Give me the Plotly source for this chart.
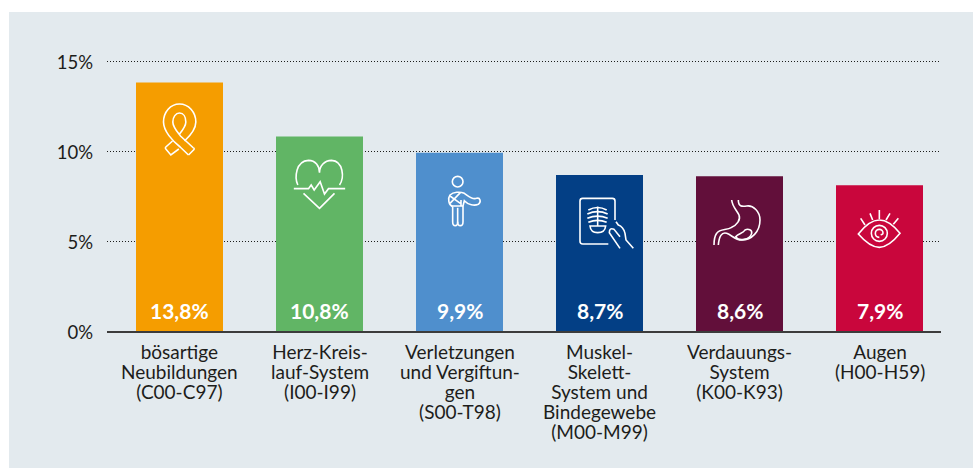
import re
import plotly.graph_objects as go

categories = ["bösartige Neubildungen", "Herz-Kreislauf-System", "Verletzungen und Vergiftungen",
              "Muskel-Skelett-System und Bindegewebe", "Verdauungs-System", "Augen"]
bar_heights = [13.8, 10.8, 9.9, 8.67, 8.6, 8.1]
bar_labels = ["13,8%", "10,8%", "9,9%", "8,7%", "8,6%", "7,9%"]
category_lines = [
    ["bösartige", "Neubildungen", "(C00-C97)"],
    ["Herz-Kreis-", "lauf-System", "(I00-I99)"],
    ["Verletzungen", "und Vergiftun-", "gen", "(S00-T98)"],
    ["Muskel-", "Skelett-", "System und", "Bindegewebe", "(M00-M99)"],
    ["Verdauungs-", "System", "(K00-K93)"],
    ["Augen", "(H00-H59)"],
]
bar_colors = ["#F59D00", "#61B565", "#4F8FCD", "#033F85", "#620F3A", "#C9063C"]
y_ticks = [0, 5, 10, 15]
y_tick_labels = ["0%", "5%", "10%", "15%"]

FONT = "Lato, sans-serif"
TEXT = "#1d1d1b"
PANEL = "#E3EAEE"
L, R, T, B = 107, 32, 52, 137
W, H = 973, 468
PW, PH = W - L - R, H - T - B
FIRST_CX, STEP = 179.5, 140


def circle(cx, cy, r):
    k = 0.5523 * r
    return (f"M{cx-r},{cy} C{cx-r},{cy-k} {cx-k},{cy-r} {cx},{cy-r} C{cx+k},{cy-r} {cx+r},{cy-k} {cx+r},{cy} "
            f"C{cx+r},{cy+k} {cx+k},{cy+r} {cx},{cy+r} C{cx-k},{cy+r} {cx-r},{cy+k} {cx-r},{cy} Z")


# Decorative icons: drawn in 3x zoom units; (ox, oy) is the icon's local origin in those units,
# (top) the pixel height of that origin above the baseline.
icons = [
    dict(ox=538, oy=390, top=331 - 130, d=[
        "M565,465 L540,441 C517,423 490,393 490,366 C490,336 511,312 538,312 C565,312 587,336 587,366 C587,387 566,411 553,423",
        "M580,444 L541,408 C529,393 518,381 518,366 C518,351 527,339 538,339 C550,339 557,351 557,366 C557,378 548,390 538,402",
        "M517,423 L497,441 Q494,444 497,447 L512,465 L536,447",
        "M580,444 Q584,447 580,450 L565,465",
    ]),
    dict(ox=958, oy=555, top=331 - 185, d=[
        "M893,555 C883,534 886,483 925,481 C946,481 958,498 958,518 C958,498 973,481 994,481 C1030,483 1033,534 1018,555",
        "M881,566 L925,566 L933,555 L942,570 L960,545 L973,582 L985,566 L1035,566",
        "M910,580 L958,625 L1003,580",
    ]),
    dict(ox=73.5, oy=100, top=331 - (170 + 100 / 3), d=[
        circle(68, 35, 16),
        "M53,110 L53,155 Q53,167 61,167 Q68,167 68,155 L68,113",
        "M68,155 Q68,167 76,167 Q84,167 84,155 L84,108",
        "M53,110 C40,105 38,85 45,75 C55,66 75,64 88,70 C100,78 110,90 125,85 C135,82 140,95 130,103 C118,108 100,105 88,92 L84,108",
        "M45,78 L76,100 M76,68 L45,100 M50,108 L84,108 M78,90 L78,108",
    ]),
    dict(ox=(599.5 - 570) * 3, oy=100, top=331 - (190 + 100 / 3), d=[
        "M135,90 L135,33 Q135,25 127,25 L38,25 Q30,25 30,33 L30,154 Q30,162 38,162 L115,162",
        "M83,50 L83,108",
        "M55,60 Q83,45 110,60 M52,72 Q83,58 113,72 M52,85 Q83,72 113,85 M55,97 Q83,85 110,97",
        "M60,108 L107,108 Q105,128 83,128 Q62,128 60,108 Z",
        "M138,95 L145,105 Q160,110 165,130 L168,150 L190,175",
        "M150,175 L118,128 Q118,112 132,118 L150,140",
    ]),
    dict(ox=(739.5 - 705) * 3, oy=100, top=331 - (190 + 100 / 3), d=[
        "M80,30 C82,50 95,60 102,75 C108,90 95,105 80,112 C65,122 45,115 35,130 C28,140 27,155 27,165",
        "M100,30 C100,50 110,50 125,48 C145,45 165,65 165,90 C165,125 140,150 110,150 C90,150 80,135 65,130 C50,125 42,140 40,165",
        "M92,140 C100,130 115,130 120,120 C130,115 142,120 140,130 C135,150 100,155 92,140 Z",
    ]),
    dict(ox=(879.5 - 850) * 3, oy=100, top=331 - (200 + 100 / 3), d=[
        "M25,102 C50,70 70,60 88,60 C110,60 130,75 150,100 C130,125 110,142 88,142 C65,142 45,125 25,102 Z",
        circle(88, 100, 24),
        "M88,112 C80,112 76,106 76,100 C76,93 82,88 88,88 C94,88 99,93 99,99 C99,103 95,105 92,103",
        "M88,30 L88,57 M60,40 L68,60 M120,40 L108,60 M32,55 L45,75 M145,55 L130,73",
    ]),
]


def to_pixel_path(d, ox, oy, top):
    """Map zoom-unit, y-down points to Plotly pixel-sized shape coordinates (y-up)."""
    out, is_x = [], True
    for tok in re.findall(r"[MLCQZ]|-?\d+\.?\d*", d):
        if tok.isalpha():
            out.append(tok)
            is_x = True
        else:
            v = float(tok)
            out.append(f"{(v - ox) / 3:.2f}" if is_x else f"{top - (v - oy) / 3:.2f}")
            is_x = not is_x
    return " ".join(out)


x = list(range(len(categories)))
fig = go.Figure(go.Bar(x=x, y=bar_heights, marker=dict(color=bar_colors, line_width=0),
                       width=87 / STEP, hoverinfo="skip", showlegend=False))

shapes = [dict(type="rect", xref="paper", yref="paper", layer="below", line_width=0, fillcolor=PANEL,
               x0=(9 - L) / PW, x1=(W - L) / PW,
               y0=(H - B - 468) / PH, y1=(H - B - 12) / PH)]
for i, icon in enumerate(icons):
    for d in icon["d"]:
        shapes.append(dict(type="path", xref="x", yref="y", xsizemode="pixel", ysizemode="pixel",
                           xanchor=i, yanchor=0, layer="above",
                           line=dict(color="white", width=1.6),
                           path=to_pixel_path(d, icon["ox"], icon["oy"], icon["top"])))

annotations = []
for i, lab in enumerate(bar_labels):
    annotations.append(dict(x=i, y=0, xref="x", yref="y", text=f"<b>{lab}</b>", showarrow=False,
                            yanchor="middle", yshift=21,
                            font=dict(family=FONT, size=21, color="white")))
for i, lines in enumerate(category_lines):
    annotations.append(dict(x=i, y=0, xref="x", yref="y", text="<br>".join(lines), showarrow=False,
                            yanchor="top", yshift=-7, align="center",
                            font=dict(family=FONT, size=19, color=TEXT)))

fig.update_layout(
    width=W, height=H, autosize=False,
    margin=dict(l=L, r=R, t=T, b=B, pad=0),
    paper_bgcolor="white", plot_bgcolor="rgba(0,0,0,0)",
    shapes=shapes, annotations=annotations, font=dict(family=FONT, color=TEXT),
    xaxis=dict(range=[(L - FIRST_CX) / STEP, (W - R - FIRST_CX) / STEP], showticklabels=False,
               showgrid=False, zeroline=False, showline=True, linecolor="#3c3c3c", linewidth=2, ticks=""),
    yaxis=dict(range=[0, 15.5], tickmode="array", tickvals=y_ticks, ticktext=y_tick_labels,
               showgrid=True, griddash="1px,2px", gridcolor="#1d1d1b", gridwidth=1, zeroline=False,
               showline=False, ticks="", ticklabelstandoff=13, ticklabelshift=2,
               tickfont=dict(family=FONT, size=18.5, color=TEXT)),
)
# Tighten the line pitch of the multi-line category labels to the reference's 20 px.
tighten = """
document.body.style.margin='0';
function tightenLines(){
  document.querySelectorAll('.annotation-text').forEach(function(t){
    t.querySelectorAll('tspan.line').forEach(function(s,i){ s.setAttribute('dy',(i*20)+'px'); });
  });
}
tightenLines();
var gd=document.getElementById('{plot_id}');
if(gd&&gd.on){gd.on('plotly_afterplot',tightenLines);}
setTimeout(tightenLines,0);
"""
fig.write_html("out.html", config=dict(displayModeBar=False), post_script=tighten)
